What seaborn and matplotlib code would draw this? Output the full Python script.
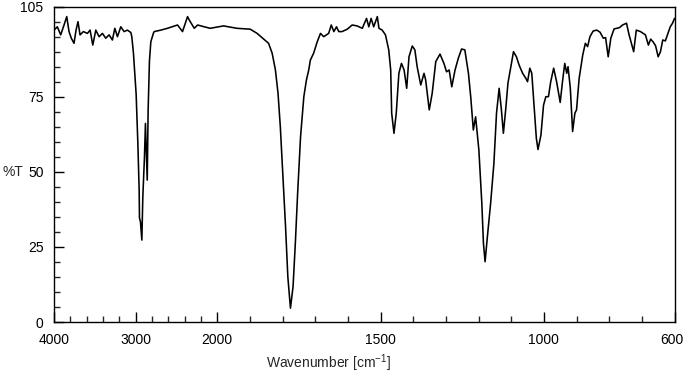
import numpy as np
import pandas as pd
import matplotlib
matplotlib.use("Agg")
import matplotlib.pyplot as plt
import matplotlib.transforms as mtransforms
from matplotlib.ticker import FixedLocator, FixedFormatter, NullFormatter
import seaborn as sns

# ---- data ----
wavenumber = [
    4000, 3959, 3918, 3877, 3844, 3816, 3788, 3755, 3730, 3706, 3681, 3640, 3591, 3558,
    3525, 3488, 3448, 3407, 3366, 3325, 3285, 3255, 3223, 3182, 3141, 3101, 3059, 3047,
    3027, 2994, 2973, 2957, 2953, 2941, 2924, 2912, 2892, 2880, 2871, 2858, 2847, 2831,
    2814, 2782, 2773, 2691, 2610, 2487, 2426, 2364, 2344, 2282, 2241, 2160, 2086, 1996,
    1981, 1940, 1899, 1878, 1843, 1832, 1822, 1814, 1807, 1799, 1791, 1784, 1776, 1768,
    1761, 1754, 1745, 1735, 1727, 1720, 1715, 1705, 1694, 1684, 1674, 1659, 1651, 1643,
    1635, 1628, 1618, 1602, 1587, 1572, 1556, 1543, 1536, 1529, 1521, 1510, 1505, 1495,
    1485, 1475, 1469, 1466, 1459, 1452, 1444, 1436, 1428, 1420, 1413, 1403, 1395, 1388,
    1377, 1367, 1362, 1351, 1342, 1331, 1318, 1306, 1298, 1290, 1282, 1272, 1262, 1252,
    1242, 1231, 1224, 1216, 1209, 1199, 1190, 1185, 1180, 1173, 1163, 1153, 1145, 1137,
    1130, 1124, 1117, 1110, 1101, 1093, 1084, 1076, 1065, 1055, 1050, 1043, 1037, 1030,
    1023, 1018, 1009, 1001, 994, 986, 979, 970, 961, 950, 943, 936, 930, 926,
    919, 912, 905, 900, 892, 881, 873, 866, 859, 849, 838, 828, 818, 811,
    803, 795, 785, 769, 759, 747, 739, 725, 717, 704, 689, 680, 673, 665,
    658, 650, 643, 636, 628, 620, 613, 606, 600,
]
transmittance = [
    97.3, 98.4, 95.7, 99.0, 101.8, 96.8, 94.6, 92.9, 97.3, 100.1, 95.7, 96.8, 96.2, 97.3,
    92.3, 97.3, 95.1, 96.2, 94.6, 95.7, 94.0, 97.9, 95.1, 98.4, 96.8, 97.3, 96.5, 95.1,
    89.6, 76.0, 59.6, 44.0, 34.7, 33.4, 27.3, 41.8, 55.0, 66.2, 58.0, 47.3, 70.7, 87.0,
    93.4, 96.3, 96.8, 97.3, 97.9, 99.0, 96.8, 101.8, 100.7, 97.9, 99.0, 98.4, 97.9, 98.4,
    98.7, 97.9, 97.6, 96.2, 92.9, 89.6, 84.0, 76.2, 65.1, 48.4, 31.8, 15.1, 4.6, 11.8,
    26.3, 42.9, 61.8, 75.1, 80.7, 84.0, 87.3, 89.6, 93.4, 96.2, 95.1, 96.2, 99.0, 96.8,
    98.4, 96.8, 96.8, 97.6, 99.0, 98.7, 97.9, 101.2, 98.4, 101.2, 98.4, 101.8, 97.9, 97.3,
    95.7, 90.7, 84.0, 69.6, 62.9, 69.6, 82.9, 86.2, 84.0, 77.9, 88.4, 92.0, 90.7, 85.1,
    79.0, 82.9, 80.7, 70.7, 76.2, 86.8, 89.3, 86.2, 83.4, 84.0, 78.4, 84.0, 87.9, 91.0,
    90.7, 82.9, 75.1, 64.0, 68.4, 57.3, 39.6, 26.2, 20.1, 28.4, 39.6, 52.9, 69.6, 77.9,
    70.7, 62.9, 70.7, 79.6, 85.1, 90.1, 88.4, 85.7, 82.9, 81.2, 80.1, 84.6, 82.9, 72.3,
    61.2, 57.5, 62.3, 72.3, 75.1, 75.1, 80.1, 84.6, 80.1, 73.2, 80.1, 86.2, 82.9, 85.1,
    77.9, 63.5, 69.6, 70.7, 81.2, 89.0, 92.9, 91.8, 95.1, 97.0, 97.3, 96.6, 94.6, 94.8,
    88.4, 94.6, 97.7, 98.1, 99.0, 99.6, 95.7, 90.1, 97.3, 96.8, 95.7, 92.3, 94.3, 93.3,
    92.1, 88.4, 90.1, 94.0, 93.7, 96.2, 98.4, 99.6, 101.2,
]

x_major = [4000, 3000, 2000, 1500, 1000, 600]
x_major_labels = ["4000", "3000", "2000", "1500", "1000", "600"]
x_minor = [3800, 3600, 3400, 3200, 2800, 2600, 2400, 2200,
           1900, 1800, 1700, 1600, 1400, 1300, 1200, 1100, 900, 800, 700]
y_major = [0, 25, 50, 75, 105]
y_major_labels = ["0", "25", "50", "75", "105"]
y_minor = [5, 10, 15, 20, 30, 35, 40, 45, 55, 60, 65, 70, 80, 85, 90, 95, 100]

df = pd.DataFrame({"wavenumber": wavenumber, "T": transmittance})

sns.set_style("white")
plt.rcParams["font.family"] = ["Liberation Sans", "DejaVu Sans"]
plt.rcParams["mathtext.fontset"] = "custom"
plt.rcParams["mathtext.rm"] = "Liberation Sans"

fig = plt.figure(figsize=(6.83, 3.75), dpi=100)
ax = fig.add_axes([54 / 683, 53 / 375, 620.5 / 683, 315 / 375])


def fwd(x):
    x = np.asarray(x, dtype=float)
    return np.where(x > 2000, 2000 + (x - 2000) / 4.0, x)


def inv(u):
    u = np.asarray(u, dtype=float)
    return np.where(u > 2000, 2000 + (u - 2000) * 4.0, u)


ax.set_xscale("function", functions=(fwd, inv))

sns.lineplot(data=df, x="wavenumber", y="T", ax=ax, color="black",
             linewidth=1.15, sort=False, estimator=None)

ax.set_xlim(4000, 600)
ax.set_ylim(0, 105)

ax.xaxis.set_major_locator(FixedLocator(x_major))
ax.xaxis.set_major_formatter(FixedFormatter(x_major_labels))
ax.xaxis.set_minor_locator(FixedLocator(x_minor))
ax.xaxis.set_minor_formatter(NullFormatter())
ax.yaxis.set_major_locator(FixedLocator(y_major))
ax.yaxis.set_major_formatter(FixedFormatter(y_major_labels))
ax.yaxis.set_minor_locator(FixedLocator(y_minor))
ax.yaxis.set_minor_formatter(NullFormatter())

ax.tick_params(which="major", direction="in", length=7.2, width=1.0,
               labelsize=10, colors="black", bottom=True, left=True,
               top=False, right=False)
ax.tick_params(axis="x", which="major", pad=8)
ax.tick_params(axis="y", which="major", pad=7.5)
ax.tick_params(which="minor", direction="in", length=4.3, width=1.0,
               bottom=True, left=True, top=False, right=False)

for s in ax.spines.values():
    s.set_visible(True)
    s.set_color("black")
    s.set_linewidth(1.0)

ax.set_xlabel("")
ax.set_ylabel("")
fig.text(328.5 / 683, 1 - 363 / 375, r"Wavenumber [cm$^{\mathregular{-1}}$]",
         ha="center", va="center", fontsize=10)
fig.text(13 / 683, 1 - 171.5 / 375, "%T", ha="center", va="center", fontsize=10)

# keep the last x tick label ("600") inside the canvas, as in the reference
fig.canvas.draw()
last = ax.xaxis.get_major_ticks()[-1].label1
last.set_transform(last.get_transform()
                   + mtransforms.ScaledTranslation(-0.03, 0, fig.dpi_scale_trans))

fig.savefig("out.png", dpi=100, facecolor="white")
